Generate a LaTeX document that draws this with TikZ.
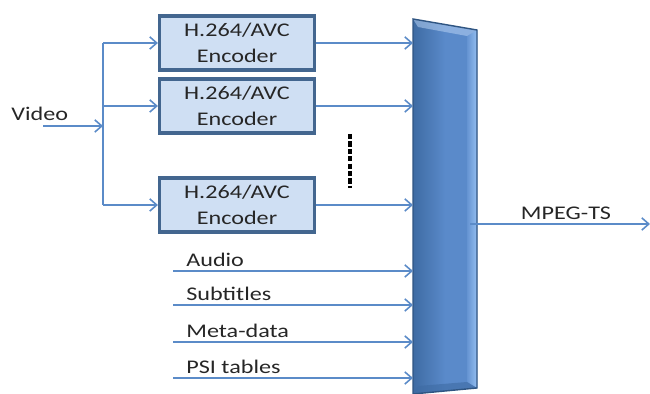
\documentclass[tikz,border=0pt]{standalone}
\usepackage{fontspec}
\setmainfont{Carlito}[FakeStretch=1.25]
\usetikzlibrary{arrows.meta}
\definecolor{wireblue}{HTML}{5B8BC8}
\definecolor{boxfill}{HTML}{CFDFF3}
\definecolor{boxline}{HTML}{43668F}
\definecolor{muxblue}{HTML}{5A8ACA}
\definecolor{muxdark}{HTML}{3E6BA3}
\definecolor{muxlight}{HTML}{93BDF0}
\definecolor{muxedge}{HTML}{2F5582}
\tikzset{
  wire/.style={draw=wireblue, line width=0.9pt},
  link/.style={wire, -{Straight Barb[length=4pt,width=7pt]}},
  encbox/.style={draw=boxline, fill=boxfill, line width=1.8pt, minimum width=3.1cm,
    minimum height=1.08cm, inner sep=0pt, align=center, text=black!85,
    font=\fontsize{11}{14.5}\selectfont},
  txt/.style={inner sep=0pt, text=black!85, font=\fontsize{11}{13}\selectfont}
}
\begin{document}
\begin{tikzpicture}[x=0.02cm, y=-0.02cm]
  \useasboundingbox (0,0) rectangle (650,394);
  % multiplexer
  \shade [left color=muxdark, right color=muxblue, middle color=muxblue]
    (413,19) -- (477,30) -- (477,388) -- (413,394) -- cycle;
  \shade [left color=muxblue!80!muxlight, right color=muxlight]
    (467,36) -- (477,30) -- (477,388) -- (467,382) -- cycle;
  \fill [muxlight!60!white, opacity=0.5] (413,19) -- (477,30) -- (467,36) -- (418,27) -- cycle;
  \fill [muxdark, opacity=0.6] (413,394) -- (477,388) -- (467,382) -- (418,386) -- cycle;
  \draw [muxedge, line width=0.8pt] (413,19) -- (477,30) -- (477,388) -- (413,394) -- cycle;
  \coordinate (muxl) at (413, 0);
  \coordinate (muxr) at (470, 224);
  % encoders
  \node [encbox] (enc1) at (237, 43) {H.264/AVC\\Encoder};
  \node [encbox] (enc2) at (237, 106) {H.264/AVC\\Encoder};
  \node [encbox] (enc3) at (237, 205) {H.264/AVC\\Encoder};
  % video split
  \node [txt, anchor=base west] (video) at (11, 121) {Video};
  \coordinate (vin) at (43, 126);
  \coordinate (split) at (103, 126);
  \coordinate (top) at (103, 43);
  \coordinate (bot) at (103, 205);
  \draw [link] (vin) to (split);
  \draw [wire] (top) to (bot);
  \draw [link] (top) to (enc1.west);
  \draw [link] (split |- enc2.west) to (enc2.west);
  \draw [link] (bot) to (enc3.west);
  \foreach \e in {1,2,3}
    \draw [link] (enc\e.east) to (enc\e.east -| muxl);
  \draw [black, line width=2pt, dash pattern=on 3pt off 1.2pt] (350,134) to (350,188);
  % other inputs
  \foreach \y/\t [count=\i] in {271/Audio, 305/Subtitles, 342/Meta-data, 378/PSI tables} {
    \coordinate (src\i) at (173, \y);
    \node [txt, anchor=base west] (lbl\i) at (186, \y-4) {\t};
    \draw [link] (src\i) to (src\i -| muxl);
  }
  % output
  \coordinate (tsout) at (650, 224);
  \draw [link] (muxr) to (tsout);
  \node [txt, anchor=base] (ts) at (566, 220) {MPEG-TS};
\end{tikzpicture}
\end{document}
